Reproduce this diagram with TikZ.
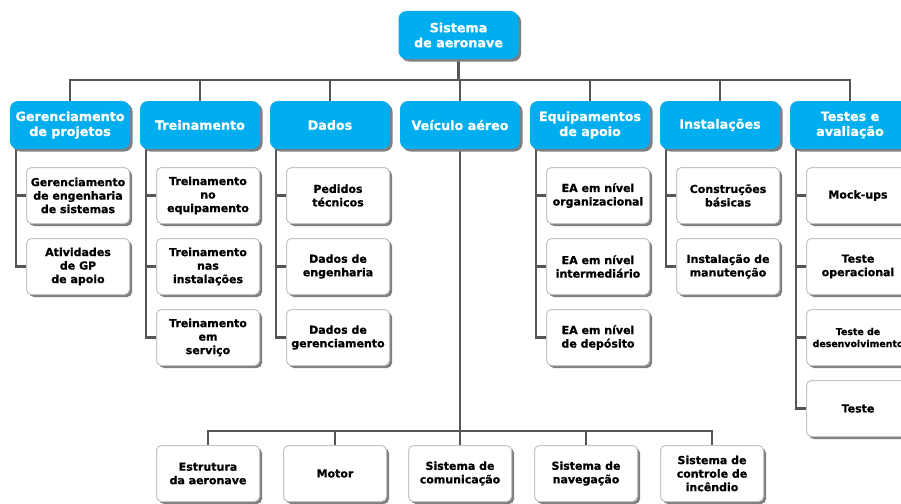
\documentclass[tikz,border=0pt]{standalone}
\usepackage{fontspec}
\setmainfont{DejaVu Sans}[BoldFeatures={FakeBold=0.8}]
\usetikzlibrary{shadows}
\pgfdeclarelayer{background}
\pgfsetlayers{background,main}
\definecolor{wbsblue}{HTML}{00AEEF}
\definecolor{wbsline}{HTML}{555555}
\definecolor{wbsedge}{HTML}{C4C4C4}
\definecolor{wbsshade}{HTML}{7F7F7F}
\tikzset{
  shade3/.style={drop shadow={shadow xshift=2.5pt, shadow yshift=-2.5pt, fill=wbsshade, opacity=1}},
  bluebox/.style={rounded corners=8pt, fill=wbsblue, text=white, shade3,
    minimum width=120pt, minimum height=48pt, inner sep=1pt, align=center,
    font=\fontsize{12.7}{15}\selectfont\bfseries},
  leafbox/.style={rounded corners=5pt, fill=white, draw=wbsedge, line width=1pt, shade3,
    minimum width=103pt, minimum height=56pt, inner sep=1pt, align=center,
    font=\fontsize{11}{13.5}\selectfont\bfseries},
  link/.style={draw=wbsline, line width=2.5pt},
}
\begin{document}
\begin{tikzpicture}[x=1pt,y=-1pt]
\useasboundingbox (0,0) rectangle (901,503);

% root
\node[bluebox] (root) at (458.5,35) {Sistema\\de aeronave};

% first level
\node[bluebox] (gp)  at (70,125)  {Gerenciamento\\de projetos};
\node[bluebox] (tr)  at (200,125) {Treinamento};
\node[bluebox] (da)  at (330,125) {Dados};
\node[bluebox] (va)  at (460,125) {Veículo aéreo};
\node[bluebox] (eq)  at (590,125) {Equipamentos\\de apoio};
\node[bluebox] (in)  at (720,125) {Instalações};
\node[bluebox] (te)  at (850,125) {Testes e\\avaliação};

% second level, columns
\node[leafbox] (gp1) at (78,195.5)  {Gerenciamento\\de engenharia\\de sistemas};
\node[leafbox] (gp2) at (78,266.5)  {Atividades\\de GP\\de apoio};

\node[leafbox] (tr1) at (208,195.5) {Treinamento\\no\\equipamento};
\node[leafbox] (tr2) at (208,266.5) {Treinamento\\nas\\instalações};
\node[leafbox] (tr3) at (208,337.5) {Treinamento\\em\\serviço};

\node[leafbox] (da1) at (338,195.5) {Pedidos\\técnicos};
\node[leafbox] (da2) at (338,266.5) {Dados de\\engenharia};
\node[leafbox] (da3) at (338,337.5) {Dados de\\gerenciamento};

\node[leafbox] (eq1) at (598,195.5) {EA em nível\\organizacional};
\node[leafbox] (eq2) at (598,266.5) {EA em nível\\intermediário};
\node[leafbox] (eq3) at (598,337.5) {EA em nível\\de depósito};

\node[leafbox] (in1) at (728,195.5) {Construções\\básicas};
\node[leafbox] (in2) at (728,266.5) {Instalação de\\manutenção};

\node[leafbox] (te1) at (858,195.5) {Mock-ups};
\node[leafbox] (te2) at (858,266.5) {Teste\\operacional};
\node[leafbox, font=\fontsize{9.4}{12}\selectfont\bfseries] (te3) at (858,337.5) {Teste de\\desenvolvimento};
\node[leafbox] (te4) at (858,408.5) {Teste};

% air vehicle row
\node[leafbox] (va1) at (208,473.5) {Estrutura\\da aeronave};
\node[leafbox] (va2) at (335,473.5) {Motor};
\node[leafbox] (va3) at (460,473.5) {Sistema de\\comunicação};
\node[leafbox] (va4) at (586,473.5) {Sistema de\\navegação};
\node[leafbox] (va5) at (712,473.5) {Sistema de\\controle de\\incêndio};

\coordinate (bus) at (458.5,80);
\coordinate (vbus) at (460,431);

\begin{pgfonlayer}{background}
  \fill[white] (0,0) rectangle (901,503);
  \foreach \p in {gp,tr,da,va,eq,in,te}
    \draw[link] (root.south) -- (bus) -| (\p.north);
  \foreach \p/\c in {gp/gp1,gp/gp2,tr/tr1,tr/tr2,tr/tr3,da/da1,da/da2,da/da3,
                     eq/eq1,eq/eq2,eq/eq3,in/in1,in/in2,te/te1,te/te2,te/te3,te/te4}
    \draw[link] ([xshift=6pt]\p.south west) |- (\c.west);
  \foreach \c in {va1,va2,va3,va4,va5}
    \draw[link] (va.south) -- (vbus) -| (\c.north);
\end{pgfonlayer}
\end{tikzpicture}
\end{document}
